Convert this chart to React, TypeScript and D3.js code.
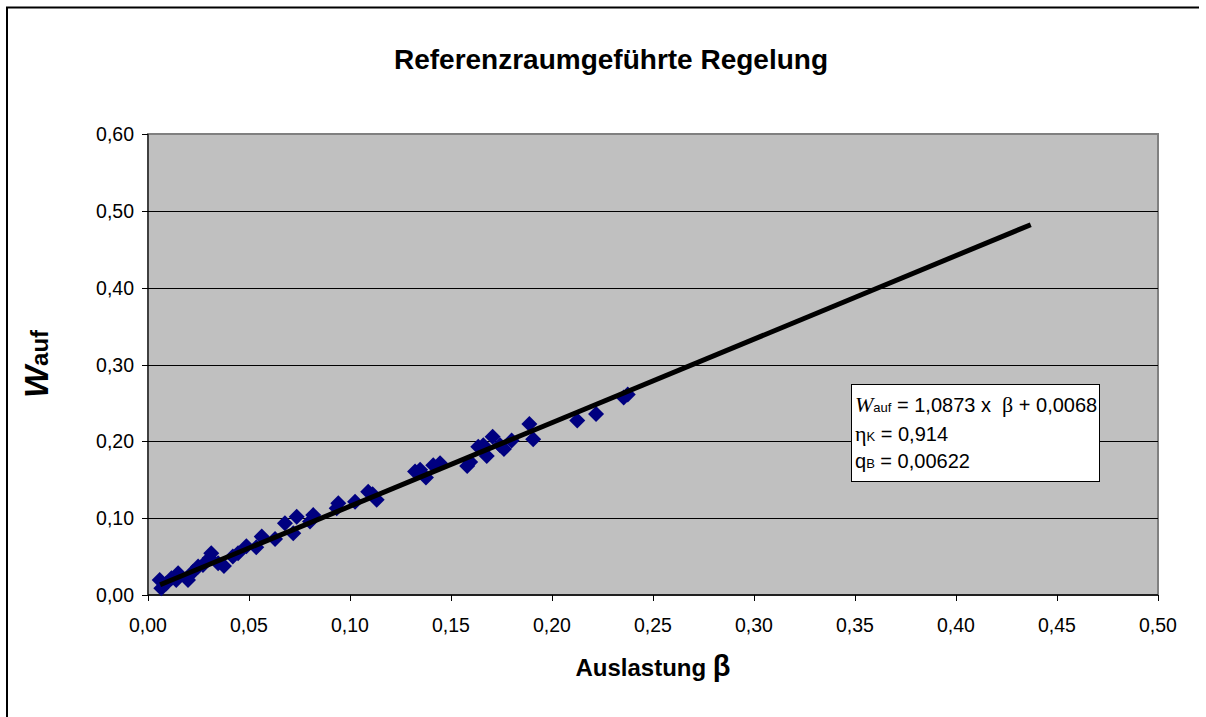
import React from "react";
import * as d3 from "d3";

const betaValues = [
  0.0058, 0.0066, 0.009, 0.0116, 0.014, 0.0149, 0.0198, 0.0223, 0.0248, 0.0272,
  0.0305, 0.0313, 0.0347, 0.0376, 0.042, 0.0446, 0.0487, 0.0536, 0.0563, 0.0629,
  0.0678, 0.0719, 0.0736, 0.0802, 0.0818, 0.0934, 0.0942, 0.1025, 0.109, 0.1112,
  0.1132, 0.1322, 0.1347, 0.1376, 0.1412, 0.1446, 0.158, 0.1595, 0.1635, 0.166,
  0.1677, 0.1706, 0.1743, 0.1762, 0.18, 0.1888, 0.1907, 0.2125, 0.2218, 0.2355,
  0.2375,
];
const wValues = [
  0.0195, 0.0087, 0.015, 0.0217, 0.0195, 0.0282, 0.0195, 0.0304, 0.037, 0.039,
  0.048, 0.0543, 0.0413, 0.0378, 0.05, 0.0543, 0.0633, 0.062, 0.076, 0.073,
  0.0933, 0.0803, 0.102, 0.0955, 0.104, 0.113, 0.1194, 0.1215, 0.1345, 0.131,
  0.124, 0.1606, 0.163, 0.153, 0.169, 0.1715, 0.168, 0.173, 0.193, 0.195,
  0.181, 0.206, 0.195, 0.19, 0.201, 0.2227, 0.2027, 0.227, 0.2357, 0.257,
  0.261,
];
const trendSlope = 1.0873;
const trendIntercept = 0.0068;
const trendRange = [0.006, 0.437];
const xTicks = [0, 0.05, 0.1, 0.15, 0.2, 0.25, 0.3, 0.35, 0.4, 0.45, 0.5];
const yTicks = [0, 0.1, 0.2, 0.3, 0.4, 0.5, 0.6];

const W = 1206;
const H = 717;
const plot = { left: 148, right: 1158, top: 134, bottom: 595 };

const fmt = (v: number) => v.toFixed(2).replace(".", ",");

export default function App() {
  const x = d3.scaleLinear().domain([0, 0.5]).range([plot.left, plot.right]);
  const y = d3.scaleLinear().domain([0, 0.6]).range([plot.bottom, plot.top]);
  const line = d3
    .line<number>()
    .x((d) => x(d))
    .y((d) => y(trendSlope * d + trendIntercept));
  const s = 8;
  const diamond = `M0,${-s}L${s},0L0,${s}L${-s},0Z`;
  const font = "Arial, 'Liberation Sans', sans-serif";
  const serif = "'Liberation Serif', 'Times New Roman', serif";

  return (
    <svg
      width={W}
      height={H}
      style={{ position: "absolute", left: 0, top: 0, background: "#fff" }}
      fontFamily={font}
    >
      <rect x={0} y={0} width={W} height={H} fill="#fff" />
      {/* outer frame (top and left visible) */}
      <line x1={6} y1={7.5} x2={1199} y2={7.5} stroke="#000" strokeWidth={2} />
      <line x1={7} y1={7} x2={7} y2={H} stroke="#000" strokeWidth={2} />

      <text x={611} y={69} textAnchor="middle" fontSize={28} fontWeight="bold">
        Referenzraumgeführte Regelung
      </text>

      {/* plot area */}
      <rect
        x={plot.left}
        y={plot.top}
        width={plot.right - plot.left}
        height={plot.bottom - plot.top}
        fill="#C0C0C0"
        stroke="#808080"
        strokeWidth={2}
      />
      {yTicks
        .filter((t) => t > 0 && t < 0.6)
        .map((t) => (
          <line
            key={"g" + t}
            x1={plot.left}
            x2={plot.right}
            y1={Math.round(y(t)) + 0.5}
            y2={Math.round(y(t)) + 0.5}
            stroke="#000"
            strokeWidth={1}
          />
        ))}
      {/* axes */}
      <line x1={plot.left} x2={plot.left} y1={plot.top} y2={plot.bottom} stroke="#000" strokeWidth={1} />
      <line x1={plot.left} x2={plot.right} y1={plot.bottom} y2={plot.bottom} stroke="#000" strokeWidth={1.5} />
      {yTicks.map((t) => (
        <g key={"y" + t}>
          <line
            x1={plot.left - 6}
            x2={plot.left}
            y1={Math.round(y(t)) + 0.5}
            y2={Math.round(y(t)) + 0.5}
            stroke="#000"
          />
          <text x={134} y={y(t) + 7} textAnchor="end" fontSize={19.5}>
            {fmt(t)}
          </text>
        </g>
      ))}
      {xTicks.map((t) => (
        <g key={"x" + t}>
          <line
            x1={Math.round(x(t)) + 0.5}
            x2={Math.round(x(t)) + 0.5}
            y1={plot.bottom}
            y2={plot.bottom + 6}
            stroke="#000"
          />
          <text x={x(t)} y={632} textAnchor="middle" fontSize={19.5}>
            {fmt(t)}
          </text>
        </g>
      ))}

      {/* data points */}
      {betaValues.map((b, i) => (
        <path
          key={"p" + i}
          d={diamond}
          transform={`translate(${x(b)},${y(wValues[i])})`}
          fill="#000080"
        />
      ))}

      {/* trend line */}
      <path d={line(trendRange) || ""} fill="none" stroke="#000" strokeWidth={5} />

      {/* equation box */}
      <rect x={851.5} y={384.5} width={248} height={97} fill="#fff" stroke="#000" strokeWidth={1} />
      <text x={855} y={412} fontSize={20}>
        <tspan fontFamily={serif} fontStyle="italic" fontSize={22}>W</tspan>
        <tspan fontSize={13}>auf</tspan>
        <tspan>{" = 1,0873 x \u00a0"}</tspan>
        <tspan fontFamily={serif} fontSize={22}>β</tspan>
        <tspan> + 0,0068</tspan>
      </text>
      <text x={855} y={441} fontSize={20}>
        <tspan fontFamily={serif} fontSize={22}>η</tspan>
        <tspan fontSize={13}>K</tspan>
        <tspan> = 0,914</tspan>
      </text>
      <text x={855} y={468} fontSize={20}>
        <tspan>q</tspan>
        <tspan fontSize={13}>B</tspan>
        <tspan> = 0,00622</tspan>
      </text>

      {/* axis titles */}
      <text x={653} y={676} textAnchor="middle" fontSize={24} fontWeight="bold">
        Auslastung <tspan fontSize={29}>β</tspan>
      </text>
      <text
        transform="translate(48,364) rotate(-90)"
        textAnchor="middle"
        fontWeight="bold"
      >
        <tspan fontSize={34} fontStyle="italic">W</tspan>
        <tspan fontSize={24}>auf</tspan>
      </text>
    </svg>
  );
}
